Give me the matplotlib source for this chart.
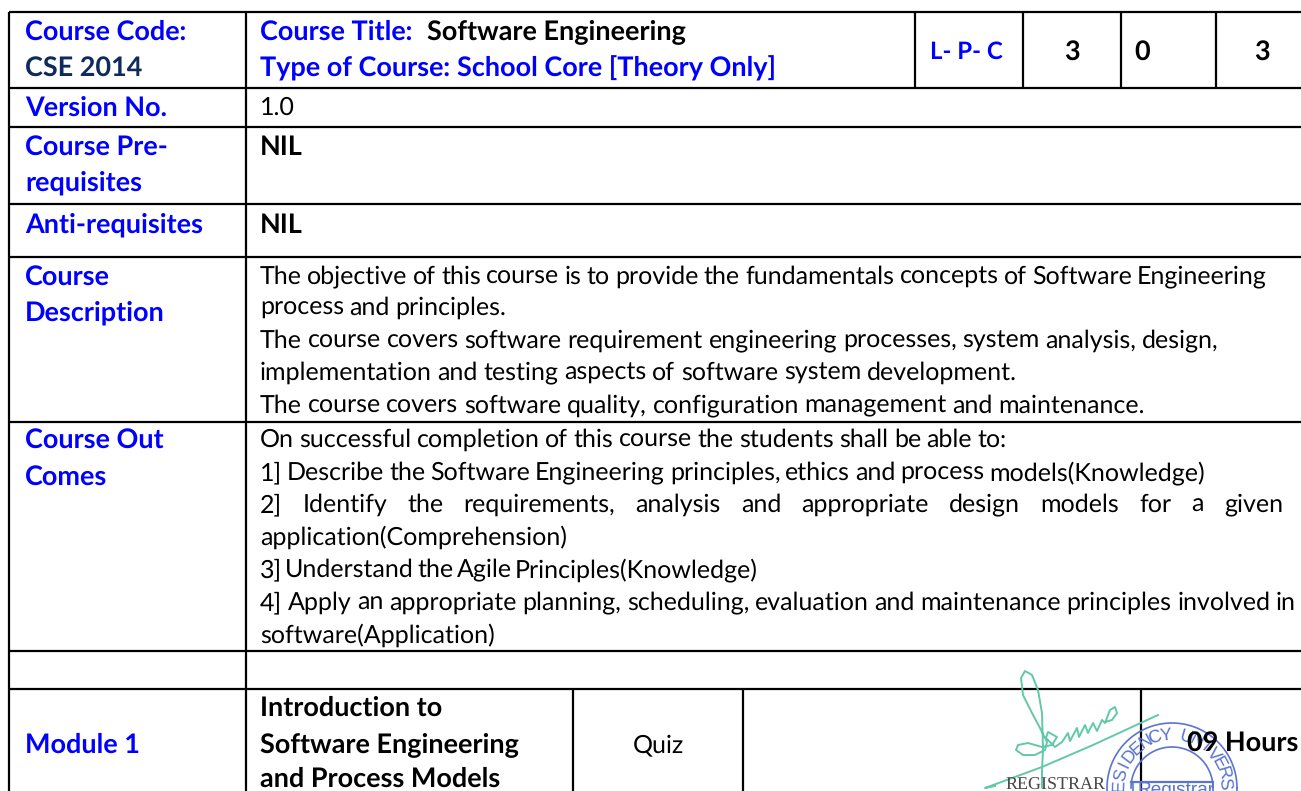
import matplotlib
matplotlib.use('Agg')
import matplotlib.pyplot as plt
import numpy as np

BLUE = '#0000ff'
NAVY = '#0f2a5c'
STAMP = '#5b74cf'
INK = '#62c9a8'

# table rules, in pixels of the screenshot
row_y = [12, 88, 127, 204, 257, 422, 651, 689]
col_x = [9, 246]
head_x = [915, 1023, 1121, 1216]
module_x = [573, 743, 1141]

# text cells: x, y, text
left_labels = [(25, 32, 'Course Code:'), (25, 108, 'Version No.'), (25, 147, 'Course Pre-'),
               (25, 183, 'requisites'), (25, 225, 'Anti-requisites'), (25, 277, 'Course'),
               (25, 313, 'Description'), (25, 440, 'Course Out'), (25, 477, 'Comes'),
               (25, 745, 'Module 1'), (260, 32, 'Course Title:'),
               (260, 68, 'Type of Course: School Core [Theory Only]')]
black_bold = [(427, 32, 'Software Engineering'), (260, 147, 'NIL'), (260, 225, 'NIL'),
              (260, 708, 'Introduction to'), (260, 745, 'Software Engineering'),
              (260, 779, 'and Process Models'), (1187, 743, '09 Hours')]
head_vals = [(1072, 52, '3'), (1142, 52, '0'), (1262, 52, '3')]

body_lines = [(277, 'The objective of this course is to provide the fundamentals concepts of Software Engineering', 1267),
              (308, 'process and principles.', 506),
              (341, 'The course covers software requirement engineering processes, system analysis, design,', 1219),
              (373, 'implementation and testing aspects of software system development.', 1017),
              (406, 'The course covers software quality, configuration management and maintenance.', 1145),
              (440, 'On successful completion of this course the students shall be able to:', 1007),
              (473, '1] Describe the Software Engineering principles, ethics and process models(Knowledge)', 1205),
              (505, '2] Identify the requirements, analysis and appropriate design models for a given', 1283),
              (537, 'application(Comprehension)', None),
              (570, '3] Understand the Agile Principles(Knowledge)', 758),
              (603, '4] Apply an appropriate planning, scheduling, evaluation and maintenance principles involved in', 1296),
              (635, 'software(Application)', None)]

# signature and stamp traces
sign_x = [1042, 1042, 1043, 1042, 1038, 1032, 1025, 1021, 1023, 1032, 1040, 1047, 1045, 1035, 1023, 1016, 1018,
          1028, 1042, 1052, 1057, 1048, 1046, 1055, 1062, 1068, 1070, 1077, 1079, 1085, 1088, 1093, 1097, 1102,
          1105, 1110, 1115, 1117, 1112, 1105]
sign_y = [787, 770, 750, 713, 690, 675, 671, 678, 695, 713, 728, 742, 750, 755, 755, 750, 745,
          743, 747, 745, 737, 732, 738, 747, 742, 733, 741, 728, 737, 725, 733, 723, 731, 720,
          723, 710, 707, 713, 720, 722]
slash_x = [995, 985, 1042, 1093, 1158]
slash_y = [786, 788, 767, 745, 715]
stamp_letters = 'RESIDENCY UNIVERSITY'
stamp_center = (1172, 788)

plt.rcParams['font.family'] = ['Lato', 'DejaVu Sans']
plt.rcParams['text.hinting'] = 'no_hinting'
plt.rcParams['text.hinting_factor'] = 1

fig = plt.figure(figsize=(13.01, 7.91), dpi=100)
ax = fig.add_axes([0, 0, 1, 1])
ax.set_xlim(0, 1301)
ax.set_ylim(791, 0)
ax.axis('off')

FS = 18.0
FB = 19.1
LW = 1.6

for y in row_y:
    ax.plot([col_x[0], 1301], [y, y], color='black', lw=LW, solid_capstyle='butt')
for x in col_x:
    ax.plot([x, x], [row_y[0], 791], color='black', lw=LW, solid_capstyle='butt')
for x in head_x:
    ax.plot([x, x], [row_y[0], row_y[1]], color='black', lw=LW, solid_capstyle='butt')
for x in module_x:
    ax.plot([x, x], [row_y[-1], 791], color='black', lw=LW, solid_capstyle='butt')

# stamp first so the table text sits on top
theta = np.linspace(0, 2*np.pi, 200)
ax.plot(stamp_center[0] + 65*np.cos(theta), stamp_center[1] + 65*np.sin(theta), color=STAMP, lw=1.2)
theta = np.linspace(np.pi, 2*np.pi, 100)
ax.plot(stamp_center[0] + 41*np.cos(theta), stamp_center[1] + 41*np.sin(theta), color=STAMP, lw=1.2)
ax.plot([1131, 1213], [782, 782], color=STAMP, lw=1.6)
ax.plot([1133, 1133], [782, 791], color=STAMP, lw=1.2)
ax.plot([1213, 1213], [782, 791], color=STAMP, lw=1.2)
for i, ch in enumerate(stamp_letters):
    a = np.radians(-189 + i*11.5)
    ax.text(stamp_center[0] + 53*np.cos(a), stamp_center[1] + 53*np.sin(a), ch, color=STAMP, fontsize=13,
            family='Liberation Sans', ha='center', va='center', rotation=-np.degrees(a) - 90)
ax.text(1137, 790, 'Registrar', color=STAMP, fontsize=14, family='Liberation Sans', va='center')
ax.text(1005, 785, 'REGISTRAR', color='#444444', fontsize=13, family='Liberation Serif', va='center')
ax.plot(sign_x, sign_y, color=INK, lw=1.4, solid_joinstyle='round')
ax.plot(slash_x, slash_y, color=INK, lw=1.4)

for x, y, s in left_labels:
    ax.text(x, y, s, color=BLUE, fontsize=FB, weight='bold', va='center')
ax.text(25, 68, 'CSE 2014', color=NAVY, fontsize=FB, weight='bold', va='center')
ax.text(966, 52, 'L- P- C', color=BLUE, fontsize=FB-1.5, weight='bold', va='center', ha='center')
for x, y, s in black_bold:
    ax.text(x, y, s, color='black', fontsize=FB, weight='bold', va='center')
for x, y, s in head_vals:
    ax.text(x, y, s, color='black', fontsize=FB, weight='bold', va='center', ha='center')
ax.text(260, 108, '1.0', color='black', fontsize=FS, va='center')
ax.text(658, 745, 'Quiz', color='black', fontsize=FS, va='center', ha='center')

# word by word so a line can be justified out to a given right edge
fig.canvas.draw()
rend = fig.canvas.get_renderer()
def width(s):
    t = ax.text(0, 0, s, fontsize=FS)
    w = t.get_window_extent(rend).width
    t.remove()
    return w

for y, line, end in body_lines:
    words = line.split(' ')
    ws = [width(w) for w in words]
    gap = 0 if end is None else (end - 260 - sum(ws)) / (len(words) - 1)
    x = 260
    for w, wd in zip(words, ws):
        ax.text(x, y, w, color='black', fontsize=FS, va='center')
        x += wd + gap

ax.set_xlim(0, 1301)
ax.set_ylim(791, 0)
fig.savefig('out.png', dpi=100)
